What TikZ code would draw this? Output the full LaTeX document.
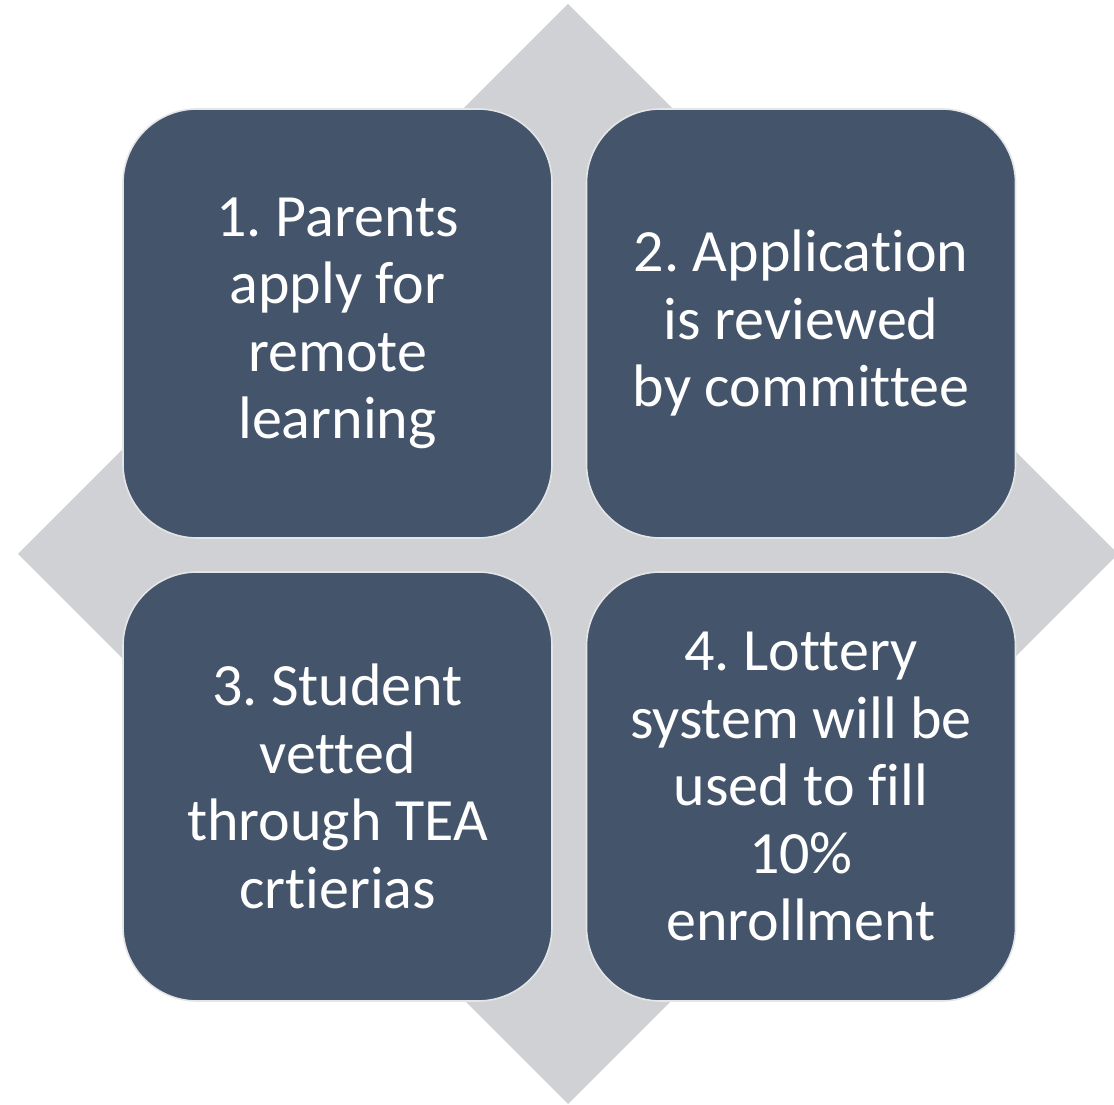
\documentclass[tikz,border=0pt]{standalone}
\usepackage{fontspec}
\setmainfont[Ligatures={NoCommon}]{Carlito}
\frenchspacing
\definecolor{boxfill}{HTML}{44546A}
\definecolor{diamondgray}{HTML}{CFD1D5}
\definecolor{boxedge}{HTML}{E4E5E7}
\begin{document}
\begin{tikzpicture}[x=1pt,y=1pt,
  stepbox/.style={rectangle, rounded corners=74pt, fill=boxfill, draw=boxedge,
    line width=1.6pt, minimum width=429pt, minimum height=429pt, inner sep=0pt,
    text=white, align=center, font=\fontsize{60}{67.5}\selectfont\frenchspacing}]
\useasboundingbox (0,0) rectangle (1114,1105);
\begin{scope}
\clip (0,0) rectangle (1114,1105);
\fill[diamondgray] (568,1101) -- (1118,551) -- (568,1) -- (18,551) -- cycle;
\end{scope}
\node[stepbox] (b1) at (337.5,781.5) {1. Parents\\apply for\\remote\\learning};
\node[stepbox] (b2) at (801,781.5) {2. Application\\is reviewed\\by committee};
\node[stepbox] (b3) at (337.5,318.5) {3. Student\\vetted\\through TEA\\crtierias};
\node[stepbox] (b4) at (801,318.5) {4. Lottery\\system will be\\used to fill\\10\%\\enrollment};
\end{tikzpicture}
\end{document}
